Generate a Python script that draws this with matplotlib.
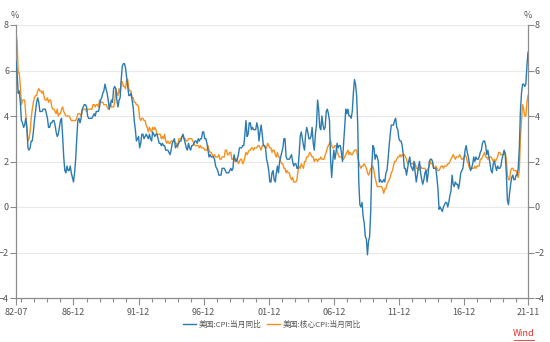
import numpy as np
import matplotlib
matplotlib.use("Agg")
import matplotlib.pyplot as plt
from matplotlib.lines import Line2D

plt.rcParams['font.family'] = ['Noto Sans CJK SC', 'DejaVu Sans']

# 美国CPI当月同比, 1982-07 .. 2021-11, one row per year
cpi = [
    6.4, 5.9, 5.0, 5.1, 4.6, 3.8,
    3.7, 3.5, 3.6, 3.9, 3.5, 2.6, 2.5, 2.6, 2.9, 2.9, 3.3, 3.8,
    4.2, 4.6, 4.8, 4.6, 4.2, 4.2, 4.2, 4.3, 4.3, 4.3, 4.1, 3.9,
    3.5, 3.5, 3.7, 3.7, 3.8, 3.8, 3.6, 3.3, 3.1, 3.2, 3.5, 3.8,
    3.9, 3.1, 2.2, 1.6, 1.5, 1.8, 1.6, 1.6, 1.8, 1.5, 1.3, 1.1,
    1.5, 2.1, 3.0, 3.8, 3.9, 3.7, 3.9, 4.3, 4.4, 4.5, 4.5, 4.4,
    4.0, 3.9, 3.9, 3.9, 3.9, 4.0, 4.1, 4.0, 4.2, 4.2, 4.2, 4.4,
    4.7, 4.8, 5.0, 5.1, 5.4, 5.2, 5.0, 4.7, 4.3, 4.5, 4.7, 4.6,
    5.2, 5.3, 5.2, 4.7, 4.4, 4.7, 4.8, 5.6, 6.2, 6.3, 6.3, 6.1,
    5.7, 5.3, 4.9, 4.9, 5.0, 4.7, 4.4, 3.8, 3.4, 2.9, 3.0, 3.1,
    2.6, 2.8, 3.2, 3.2, 3.0, 3.1, 3.2, 3.1, 3.0, 3.2, 3.0, 2.9,
    3.3, 3.2, 3.1, 3.2, 3.2, 3.0, 2.8, 2.8, 2.7, 2.8, 2.7, 2.7,
    2.5, 2.5, 2.5, 2.4, 2.3, 2.5, 2.8, 2.9, 3.0, 2.6, 2.7, 2.7,
    2.8, 2.9, 2.9, 3.1, 3.2, 3.0, 2.8, 2.6, 2.5, 2.8, 2.6, 2.5,
    2.7, 2.7, 2.8, 2.9, 2.9, 2.8, 3.0, 2.9, 3.0, 3.0, 3.3, 3.3,
    3.0, 3.0, 2.8, 2.5, 2.2, 2.3, 2.2, 2.2, 2.2, 2.1, 1.8, 1.7,
    1.6, 1.4, 1.4, 1.4, 1.7, 1.7, 1.7, 1.6, 1.5, 1.5, 1.5, 1.6,
    1.7, 1.6, 1.7, 2.3, 2.1, 2.0, 2.1, 2.3, 2.6, 2.6, 2.6, 2.7,
    2.7, 3.2, 3.8, 3.1, 3.2, 3.7, 3.7, 3.4, 3.5, 3.4, 3.4, 3.4,
    3.7, 3.5, 2.9, 3.3, 3.6, 3.2, 2.7, 2.7, 2.6, 2.1, 1.9, 1.6,
    1.1, 1.1, 1.5, 1.6, 1.2, 1.1, 1.5, 1.8, 1.5, 2.0, 2.2, 2.4,
    2.6, 3.0, 3.0, 2.2, 2.1, 2.1, 2.1, 2.2, 2.3, 2.0, 1.8, 1.9,
    1.9, 1.7, 1.7, 2.3, 3.1, 3.3, 3.0, 2.7, 2.5, 3.2, 3.5, 3.3,
    3.0, 3.0, 3.1, 3.5, 2.8, 2.5, 3.2, 3.6, 4.7, 4.3, 3.5, 3.4,
    4.0, 3.6, 3.4, 3.5, 4.2, 4.3, 4.1, 3.8, 2.1, 1.3, 2.0, 2.5,
    2.1, 2.4, 2.8, 2.6, 2.7, 2.7, 2.4, 2.0, 2.8, 3.5, 4.3, 4.1,
    4.3, 4.0, 4.0, 3.9, 4.2, 5.0, 5.6, 5.4, 4.9, 3.7, 1.1, 0.1,
    0.0, 0.2, -0.4, -0.7, -1.3, -1.4, -2.1, -1.5, -1.3, -0.2, 1.8, 2.7,
    2.6, 2.1, 2.3, 2.2, 2.0, 1.1, 1.2, 1.1, 1.1, 1.2, 1.1, 1.5,
    1.6, 2.1, 2.7, 3.2, 3.6, 3.6, 3.6, 3.8, 3.9, 3.5, 3.4, 3.0,
    2.9, 2.9, 2.7, 2.3, 1.7, 1.7, 1.4, 1.7, 2.0, 2.2, 1.8, 1.7,
    1.6, 2.0, 1.5, 1.1, 1.4, 1.8, 2.0, 1.5, 1.2, 1.0, 1.2, 1.5,
    1.6, 1.1, 1.5, 2.0, 2.1, 2.1, 2.0, 1.7, 1.7, 1.7, 1.3, 0.8,
    -0.1, 0.0, -0.1, -0.2, 0.0, 0.1, 0.2, 0.2, 0.0, 0.2, 0.5, 0.7,
    1.4, 1.0, 0.9, 1.1, 1.0, 1.0, 0.8, 1.1, 1.5, 1.6, 1.7, 2.1,
    2.5, 2.7, 2.4, 2.2, 1.9, 1.6, 1.7, 1.9, 2.2, 2.0, 2.2, 2.1,
    2.1, 2.2, 2.4, 2.5, 2.8, 2.9, 2.9, 2.7, 2.3, 2.5, 2.2, 1.9,
    1.6, 1.5, 1.9, 2.0, 1.8, 1.6, 1.8, 1.7, 1.7, 1.8, 2.1, 2.3,
    2.5, 2.3, 1.5, 0.3, 0.1, 0.6, 1.0, 1.3, 1.4, 1.2, 1.2, 1.4,
    1.4, 1.7, 2.6, 4.2, 5.0, 5.4, 5.4, 5.3, 5.4, 6.2, 6.8,
]

# 美国核心CPI当月同比, same months
core = [
    7.6, 7.3, 5.9, 5.9, 5.3, 4.5,
    4.7, 4.7, 4.7, 4.1, 3.5, 2.9, 3.0, 3.3, 3.9, 4.3, 4.6, 4.8,
    4.9, 4.9, 5.1, 5.2, 5.1, 5.1, 5.0, 5.1, 4.8, 4.7, 4.7, 4.8,
    4.6, 4.7, 4.7, 4.4, 4.3, 4.3, 4.2, 4.1, 4.3, 4.0, 4.1, 4.1,
    4.3, 4.4, 4.2, 4.1, 4.0, 4.0, 4.0, 4.0, 3.9, 3.8, 3.8, 3.8,
    3.8, 3.8, 3.9, 4.1, 4.1, 4.1, 4.0, 4.2, 4.3, 4.3, 4.3, 4.2,
    4.3, 4.3, 4.3, 4.3, 4.3, 4.5, 4.5, 4.4, 4.5, 4.5, 4.4, 4.7,
    4.6, 4.6, 4.6, 4.5, 4.5, 4.5, 4.4, 4.3, 4.3, 4.6, 4.4, 4.4,
    4.4, 4.6, 5.2, 5.0, 4.9, 5.2, 5.0, 5.5, 5.5, 5.3, 5.3, 5.2,
    5.6, 5.6, 5.2, 5.1, 5.1, 4.8, 4.8, 4.6, 4.6, 4.5, 4.5, 4.4,
    3.9, 3.8, 3.9, 3.9, 3.8, 3.8, 3.6, 3.5, 3.3, 3.5, 3.4, 3.3,
    3.5, 3.4, 3.5, 3.4, 3.2, 3.2, 3.2, 3.2, 3.0, 3.1, 3.0, 3.2,
    2.9, 2.8, 2.9, 2.8, 2.8, 2.9, 2.9, 2.9, 2.9, 2.8, 2.8, 2.6,
    3.0, 3.0, 3.0, 3.1, 3.1, 3.0, 3.0, 2.9, 2.9, 3.0, 3.0, 3.0,
    3.0, 2.9, 2.8, 2.7, 2.7, 2.7, 2.7, 2.6, 2.7, 2.6, 2.6, 2.6,
    2.5, 2.5, 2.5, 2.7, 2.5, 2.4, 2.4, 2.3, 2.2, 2.3, 2.2, 2.2,
    2.2, 2.3, 2.1, 2.1, 2.2, 2.2, 2.2, 2.5, 2.5, 2.3, 2.3, 2.4,
    2.4, 2.1, 2.1, 2.2, 2.0, 2.1, 2.1, 1.9, 2.0, 2.1, 2.1, 1.9,
    2.0, 2.2, 2.4, 2.3, 2.4, 2.5, 2.5, 2.6, 2.6, 2.5, 2.6, 2.6,
    2.6, 2.7, 2.7, 2.6, 2.5, 2.7, 2.7, 2.7, 2.6, 2.6, 2.8, 2.7,
    2.6, 2.6, 2.4, 2.5, 2.5, 2.3, 2.2, 2.4, 2.2, 2.2, 2.0, 1.9,
    1.9, 1.7, 1.7, 1.5, 1.6, 1.5, 1.5, 1.3, 1.2, 1.3, 1.1, 1.1,
    1.1, 1.2, 1.6, 1.8, 1.7, 1.9, 1.8, 1.7, 2.0, 2.0, 2.2, 2.2,
    2.3, 2.4, 2.3, 2.2, 2.2, 2.0, 2.1, 2.1, 2.0, 2.1, 2.1, 2.2,
    2.1, 2.1, 2.1, 2.3, 2.4, 2.6, 2.7, 2.8, 2.9, 2.7, 2.6, 2.6,
    2.7, 2.7, 2.5, 2.3, 2.2, 2.2, 2.2, 2.1, 2.1, 2.2, 2.3, 2.4,
    2.5, 2.3, 2.4, 2.3, 2.3, 2.4, 2.5, 2.5, 2.5, 2.2, 2.0, 1.8,
    1.7, 1.8, 1.8, 1.9, 1.8, 1.7, 1.5, 1.4, 1.5, 1.7, 1.7, 1.8,
    1.6, 1.3, 1.1, 0.9, 0.9, 0.9, 0.9, 0.9, 0.8, 0.6, 0.8, 0.8,
    1.0, 1.1, 1.2, 1.3, 1.5, 1.6, 1.8, 2.0, 2.0, 2.1, 2.2, 2.2,
    2.3, 2.2, 2.3, 2.3, 2.3, 2.2, 2.1, 1.9, 2.0, 2.0, 1.9, 1.9,
    1.9, 2.0, 1.9, 1.7, 1.7, 1.6, 1.7, 1.8, 1.7, 1.7, 1.7, 1.7,
    1.6, 1.6, 1.7, 1.8, 2.0, 1.9, 1.9, 1.7, 1.7, 1.8, 1.7, 1.6,
    1.6, 1.7, 1.8, 1.8, 1.7, 1.8, 1.8, 1.8, 1.9, 1.9, 2.0, 2.1,
    2.2, 2.3, 2.2, 2.1, 2.2, 2.2, 2.2, 2.3, 2.2, 2.1, 2.1, 2.2,
    2.3, 2.2, 2.0, 1.9, 1.7, 1.7, 1.7, 1.7, 1.7, 1.8, 1.7, 1.8,
    1.8, 1.8, 2.1, 2.1, 2.2, 2.3, 2.4, 2.2, 2.2, 2.1, 2.2, 2.2,
    2.2, 2.1, 2.0, 2.1, 2.0, 2.1, 2.2, 2.4, 2.4, 2.3, 2.3, 2.3,
    2.3, 2.4, 2.1, 1.4, 1.2, 1.2, 1.6, 1.7, 1.7, 1.6, 1.6, 1.6,
    1.4, 1.3, 1.6, 3.0, 3.8, 4.5, 4.3, 4.0, 4.0, 4.6, 4.9,
]

major_labels = ['82-07', '86-12', '91-12', '96-12', '01-12',
                '06-12', '11-12', '16-12', '21-11']
series_names = ['美国:CPI:当月同比', '美国:核心CPI:当月同比']

BLUE = '#2b7bb0'
ORANGE = '#f5911e'
GRID = '#e8e8e8'
AXIS = '#8c8c8c'
TXT = '#555555'

x = np.arange(len(cpi))


def month_index(lbl):
    yy, mm = lbl.split('-')
    year = int(yy) + (1900 if int(yy) > 50 else 2000)
    return (year - 1982) * 12 + int(mm) - 7


fig = plt.figure(figsize=(5.5, 3.42), dpi=100)
ax = fig.add_axes([16 / 550, 1 - 298 / 342, 512 / 550, 273 / 342])

ax.plot(x, cpi, color=BLUE, lw=1.0, label=series_names[0], zorder=3)
ax.plot(x, core, color=ORANGE, lw=1.0, label=series_names[1], zorder=2)

ax.set_xlim(0, len(cpi) - 1)
ax.set_ylim(-4, 8)
ax.set_yticks([-4, -2, 0, 2, 4, 6, 8])
for yv in [-2, 0, 2, 4, 6, 8]:
    ax.axhline(yv, color=GRID, lw=0.8, zorder=0)

major_pos = [month_index(l) for l in major_labels]
minor_pos = [i for i in range(len(cpi)) if (i + 7) % 12 == 0 and i not in major_pos]
ax.set_xticks(major_pos)
ax.set_xticklabels(major_labels)
ax.set_xticks(minor_pos, minor=True)

ax.spines['top'].set_visible(False)
for side in ['left', 'right', 'bottom']:
    ax.spines[side].set_color(AXIS)
    ax.spines[side].set_linewidth(0.9)

ax.tick_params(axis='x', which='both', direction='out', colors=AXIS,
               labelcolor=TXT, labelsize=6.5, pad=2)
ax.tick_params(axis='x', which='major', length=5, width=0.8)
ax.tick_params(axis='x', which='minor', length=3, width=0.8)
ax.tick_params(axis='y', which='major', direction='out', length=4, width=0.8,
               colors=AXIS, labelcolor=TXT, labelsize=6.5, pad=1,
               left=True, right=True, labelleft=True, labelright=True)

fig.text(15 / 550, 1 - 15 / 342, '%', fontsize=6.5, color=TXT, ha='center', va='center')
fig.text(528 / 550, 1 - 15 / 342, '%', fontsize=6.5, color=TXT, ha='center', va='center')

leg = fig.legend(loc='center', bbox_to_anchor=(272 / 550, 1 - 325 / 342), ncol=2,
                 frameon=False, fontsize=5.6, handlelength=1.7,
                 handletextpad=0.35, columnspacing=0.6)
for t in leg.get_texts():
    t.set_color(TXT)

# red "Wind" mark with underline
fig.text(524 / 550, 1 - 334 / 342, 'Wind', fontsize=6.5, color='#e0302c',
         ha='center', va='center')
fig.add_artist(Line2D([514 / 550, 534 / 550], [1 - 339.5 / 342, 1 - 339.5 / 342],
                      transform=fig.transFigure, color='#e0302c', lw=0.6))

fig.savefig('out.png', dpi=100)
